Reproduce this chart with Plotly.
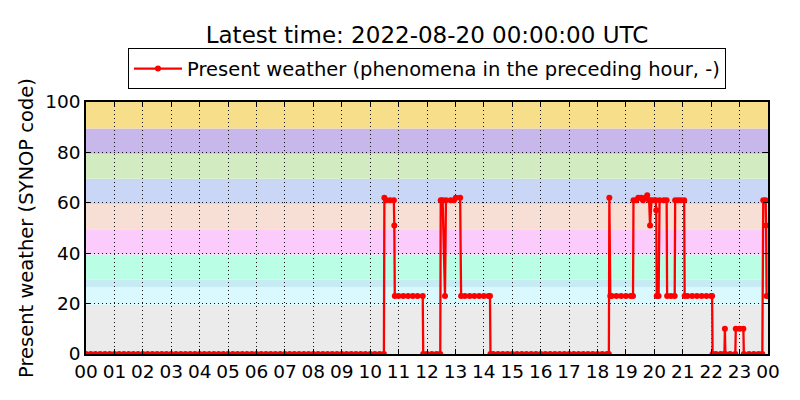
import plotly.graph_objects as go

# Present weather, minutes after 2022-08-19 00:00 UTC and SYNOP code
minutes = [
    0, 10, 20, 30, 40, 50, 60, 70, 80, 90, 100, 110, 120, 130, 140, 150,
    160, 170, 180, 190, 200, 210, 220, 230, 240, 250, 260, 270, 280, 290,
    300, 310, 320, 330, 340, 350, 360, 370, 380, 390, 400, 410, 420, 430,
    440, 450, 460, 470, 480, 490, 500, 510, 520, 530, 540, 550, 560, 570,
    580, 590, 600, 610, 620, 629,
    630, 634, 642, 650, 651, 652, 660, 670, 680, 690, 700, 711,
    712, 720, 730, 740, 748,
    749, 753, 758, 760, 770, 777, 781, 790, 792, 800, 810, 820, 830, 840,
    850, 853,
    854, 860, 870, 880, 890, 900, 910, 920, 930, 940, 950, 960, 970, 980,
    990, 1000, 1010, 1020, 1030, 1040, 1050, 1060, 1070, 1080, 1090, 1100,
    1104,
    1105, 1107, 1110, 1120, 1130, 1140, 1150, 1155, 1156, 1162, 1166, 1172,
    1176, 1181, 1185, 1189, 1191, 1194, 1200, 1203, 1204, 1205, 1209, 1211,
    1220, 1226, 1227, 1235, 1243, 1244, 1250, 1256, 1263, 1264, 1270, 1280,
    1290, 1300, 1310, 1320, 1322,
    1323, 1330, 1340, 1348, 1349, 1350, 1360, 1371, 1372, 1380, 1388, 1389,
    1400, 1410, 1420, 1428, 1430, 1435, 1436, 1437, 1440,
]
codes = [
    0, 0, 0, 0, 0, 0, 0, 0, 0, 0, 0, 0, 0, 0, 0, 0,
    0, 0, 0, 0, 0, 0, 0, 0, 0, 0, 0, 0, 0, 0,
    0, 0, 0, 0, 0, 0, 0, 0, 0, 0, 0, 0, 0, 0,
    0, 0, 0, 0, 0, 0, 0, 0, 0, 0, 0, 0, 0, 0,
    0, 0, 0, 0, 0, 0,
    62, 61, 61, 61, 51, 23, 23, 23, 23, 23, 23, 23,
    0, 0, 0, 0, 0,
    61, 61, 23, 61, 61, 61, 62, 62, 23, 23, 23, 23, 23, 23,
    23, 23,
    0, 0, 0, 0, 0, 0, 0, 0, 0, 0, 0, 0, 0, 0,
    0, 0, 0, 0, 0, 0, 0, 0, 0, 0, 0, 0,
    0,
    62, 23, 23, 23, 23, 23, 23, 23, 61, 61, 62, 62,
    61, 62, 63, 61, 51, 61, 61, 61, 57, 23, 23, 61,
    61, 61, 23, 23, 23, 61, 61, 61, 61, 23, 23, 23,
    23, 23, 23, 23, 23,
    0, 0, 0, 0, 10, 0, 0, 0, 10, 10, 10, 0,
    0, 0, 0, 0, 61, 61, 51, 23, 23,
]

hour_labels = ["%02d" % (h % 24) for h in range(25)]

# SYNOP code groups drawn as coloured bands
band_edges = [0, 19.5, 26.5, 29.5, 39.5, 49.5, 59.5, 69.5, 79.5, 89.5, 100]
band_colors = ["#EBEBEB", "#DAF9FE", "#C6EBF3", "#B9FEE5", "#FBCBFB",
               "#F7DFD6", "#C9D6F5", "#D2EBC1", "#C8B7EB", "#F7DE8B"]

hours = [m / 60 for m in minutes]

fig = go.Figure()
fig.add_trace(go.Scatter(
    x=hours, y=codes, mode="lines+markers",
    name="Present weather (phenomena in the preceding hour, -)",
    line=dict(color="#FF0000", width=2.3),
    marker=dict(color="#FF0000", size=6),
))

for lo, hi, col in zip(band_edges[:-1], band_edges[1:], band_colors):
    fig.add_shape(type="rect", xref="paper", yref="y", x0=0, x1=1, y0=lo, y1=hi,
                  fillcolor=col, line_width=0, layer="below")

axis_style = dict(
    showline=True, linecolor="black", linewidth=1.5, mirror="allticks",
    ticks="inside", ticklen=5, tickcolor="black",
    showgrid=True, gridcolor="#111111", gridwidth=1, griddash="1px,3px",
    zeroline=False, tickfont=dict(size=18.5, color="black"),
)

fig.update_xaxes(range=[0, 24], tickvals=list(range(25)), ticktext=hour_labels, **axis_style)
fig.update_yaxes(range=[0, 100], tickvals=[0, 20, 40, 60, 80, 100],
                 title=dict(text="Present weather (SYNOP code)", font=dict(size=19.5, color="black"),
                            standoff=6),
                 **axis_style)

fig.update_layout(
    width=800, height=400,
    margin=dict(l=86, r=32, t=102, b=46),
    paper_bgcolor="white", plot_bgcolor="white",
    font=dict(family="DejaVu Sans", color="black"),
    title=dict(text="Latest time: 2022-08-20 00:00:00 UTC", x=427 / 800, xanchor="center",
               y=1 - 35 / 400, yanchor="middle", font=dict(size=23, color="black")),
    showlegend=True,
    legend=dict(x=0.5, xanchor="center", y=1.05, yanchor="bottom",
                bordercolor="black", borderwidth=1, bgcolor="white", itemwidth=48,
                font=dict(size=19.5, color="black")),
)

# drop the browser's default page margin so the figure sits at the window corner
fig.write_html("out.html", config={"displayModeBar": False},
               post_script="document.body.style.margin='0';")
